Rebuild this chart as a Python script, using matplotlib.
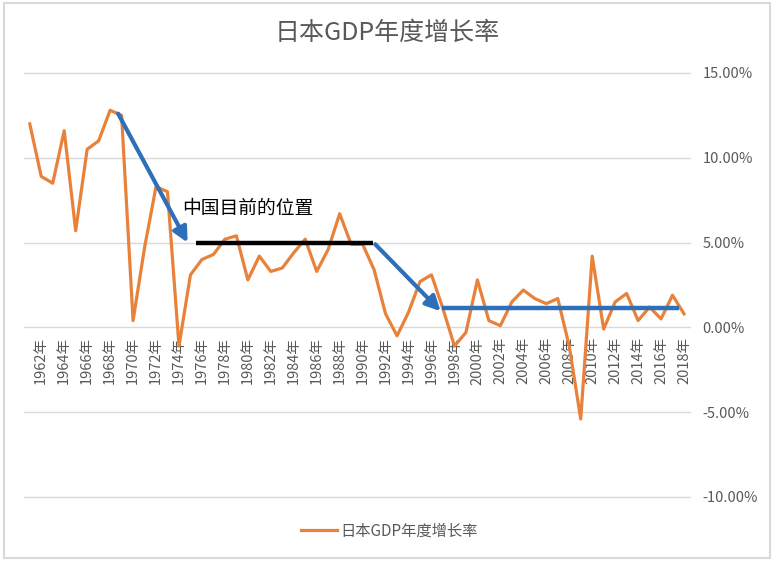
import matplotlib.pyplot as plt
from matplotlib.patches import Rectangle
import numpy as np

plt.rcParams['font.family'] = ['Noto Sans CJK SC', 'DejaVu Sans']

# data (1961-2018, %)
years = list(range(1961, 2019))
growth = [12.0, 8.9, 8.5, 11.6, 5.7, 10.5, 11.0, 12.8, 12.5, 0.4,
          4.7, 8.3, 8.0, -1.1, 3.1, 4.0, 4.3, 5.2, 5.4, 2.8,
          4.2, 3.3, 3.5, 4.4, 5.2, 3.3, 4.6, 6.7, 4.9, 4.9,
          3.4, 0.8, -0.5, 0.9, 2.7, 3.1, 1.1, -1.1, -0.3, 2.8,
          0.4, 0.1, 1.5, 2.2, 1.7, 1.4, 1.7, -1.1, -5.4, 4.2,
          -0.1, 1.5, 2.0, 0.4, 1.2, 0.5, 1.9, 0.8]
label_years = list(range(1962, 2019, 2))
y_ticks = [-10, -5, 0, 5, 10, 15]

# annotation geometry (year, %)
arrow1 = ((1968.7, 12.6), (1974.75, 5.0))
black_line = ([1975.5, 1990.9], [5.0, 5.0])
arrow2 = ((1991.1, 4.9), (1996.8, 0.95))
blue_line = ([1996.9, 2017.6], [1.12, 1.12])

orange = '#E8823A'
blue = '#2E6FBA'
gray = '#595959'

fig = plt.figure(figsize=(7.75, 5.61), dpi=100)
ax = fig.add_axes([0.031, 0.1141, 0.859, 0.7558])

ax.plot(years, growth, color=orange, lw=2.3, label='日本GDP年度增长率', zorder=3)

ax.annotate('', xy=arrow1[1], xytext=arrow1[0],
            arrowprops=dict(arrowstyle='-|>', color=blue, lw=3, mutation_scale=22,
                            shrinkA=0, shrinkB=0), zorder=4)
ax.annotate('', xy=arrow2[1], xytext=arrow2[0],
            arrowprops=dict(arrowstyle='-|>', color=blue, lw=3, mutation_scale=22,
                            shrinkA=0, shrinkB=0), zorder=4)
ax.plot(*black_line, color='black', lw=3.2, solid_capstyle='butt', zorder=4)
ax.plot(*blue_line, color=blue, lw=3.2, solid_capstyle='butt', zorder=4)
ax.text(1974.3, 7.0, '中国目前的位置', fontsize=13.5, color='black', va='center', ha='left')

ax.set_xlim(1960.5, 2018.5)
ax.set_ylim(-10, 15)

# x labels sit on the 0% line
ax.spines['bottom'].set_position(('data', 0))
for s in ax.spines.values():
    s.set_visible(False)

ax.set_yticks(y_ticks)
ax.set_yticklabels([f'{v:.2f}%' for v in y_ticks])
ax.yaxis.tick_right()
ax.tick_params(axis='y', length=0, pad=9, labelsize=10.5, labelcolor=gray)
ax.grid(axis='y', color='#D9D9D9', lw=1)
for gl in ax.get_ygridlines():
    gl.set_clip_on(False)
ax.set_axisbelow(True)

ax.set_xticks(label_years)
ax.set_xticklabels([f'{y}年' for y in label_years])
ax.tick_params(axis='x', length=0, pad=7, labelsize=10.5, labelcolor=gray,
               labelrotation=90)

fig.text(0.5, 1 - 33 / 561, '日本GDP年度增长率', ha='center', va='center',
         fontsize=18, color=gray)
fig.legend(loc='center', bbox_to_anchor=(0.502, 1 - 531 / 561), frameon=False,
           fontsize=11, handlelength=2.4, handletextpad=0.2, labelcolor=gray)

fig.patches.append(Rectangle((0.005, 0.005), 0.988, 0.989, transform=fig.transFigure,
                             fill=False, edgecolor='#D9D9D9', lw=1.5))

fig.savefig('out.png', dpi=100)
